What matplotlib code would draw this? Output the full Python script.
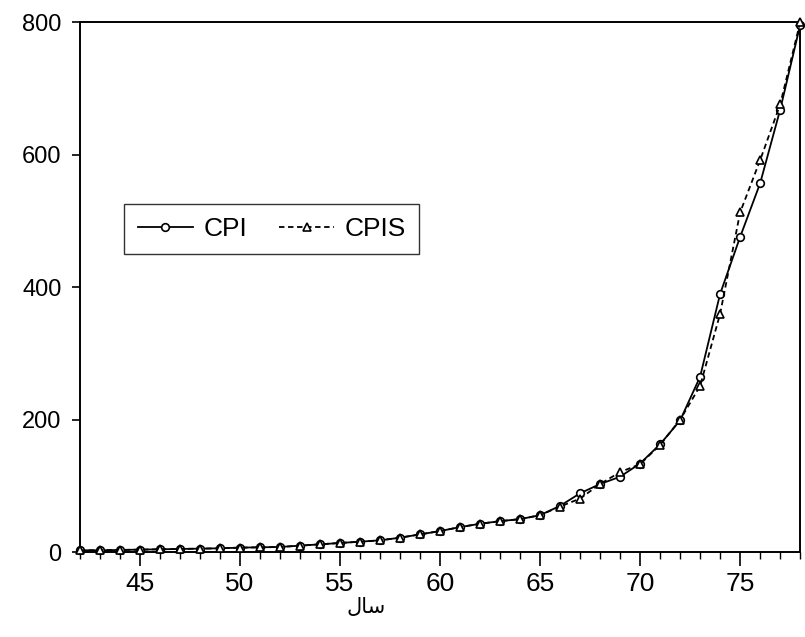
import matplotlib
matplotlib.use('Agg')
import matplotlib.pyplot as plt

plt.rcParams['font.family'] = ['Liberation Sans', 'DejaVu Sans']

years = list(range(42, 79))

cpi = [3, 3, 3.5, 4, 4.5, 5, 5.5, 6, 7, 7.5, 8, 10, 12, 14, 16, 18, 22, 27, 32,
       38, 43, 47, 50, 56, 70, 89, 103, 114, 134, 163, 199, 265, 390, 476, 557,
       668, 796]
cpis = [3, 3, 3.5, 4, 4.5, 5, 5.5, 6, 7, 7.5, 8, 10, 12, 14, 16, 18, 22, 27, 32,
        38, 43, 47, 50, 56, 69, 81, 103, 121, 133, 162, 200, 251, 360, 513, 592,
        676, 800]

y_ticks = [0, 200, 400, 600, 800]
x_major = [45, 50, 55, 60, 65, 70, 75]

xlabel_text = 'سال'


def shape_persian(s):
    # matplotlib has no Arabic shaping: map to presentation forms, right-to-left
    forms = {  # letter: (isolated, final, initial, medial)
        'س': ('\uFEB1', '\uFEB2', '\uFEB3', '\uFEB4'),
        'ا': ('\uFE8D', '\uFE8E', None, None),
        'ل': ('\uFEDD', '\uFEDE', '\uFEDF', '\uFEE0'),
    }
    non_joining = {'ا'}
    out = []
    for i, ch in enumerate(s):
        prev_joins = i > 0 and s[i - 1] not in non_joining
        next_joins = i < len(s) - 1 and ch not in non_joining
        iso, fin, ini, med = forms[ch]
        if prev_joins and next_joins:
            out.append(med)
        elif prev_joins:
            out.append(fin)
        elif next_joins:
            out.append(ini)
        else:
            out.append(iso)
    return ''.join(reversed(out))


fig = plt.figure(figsize=(8.05, 6.37), dpi=100)
ax = fig.add_axes([0.099, 0.133, 0.895, 0.832])

ax.plot(years, cpi, '-', color='black', linewidth=1.3, marker='o',
        markersize=5.5, markerfacecolor='white', markeredgewidth=1.2,
        label='CPI', clip_on=False, zorder=3)
ax.plot(years, cpis, '--', color='black', linewidth=1.3, marker='^',
        markersize=5.5, markerfacecolor='white', markeredgewidth=1.2,
        dashes=(3, 2), label='CPIS', clip_on=False, zorder=3)

ax.set_xlim(42, 78)
ax.set_ylim(0, 800)
ax.set_yticks(y_ticks)
ax.set_xticks(x_major)
ax.set_xticks(years, minor=True)

for sp in ax.spines.values():
    sp.set_linewidth(1.4)

ax.tick_params(axis='both', which='major', direction='out',
               width=1.2, color='black')
ax.tick_params(axis='x', which='major', length=10, pad=4, labelsize=19)
ax.tick_params(axis='x', which='minor', length=5, width=1.0)
ax.tick_params(axis='y', which='major', length=6, pad=7, labelsize=17)

ax.set_xlabel(shape_persian(xlabel_text), fontsize=15,
              family=['DejaVu Sans'])
ax.xaxis.set_label_coords(0.397, -0.085)

leg = ax.legend(loc='upper left', bbox_to_anchor=(0.062, 0.658), ncol=2,
                fontsize=19, frameon=True, fancybox=False, handlelength=2.1,
                columnspacing=1.2, handletextpad=0.4, borderpad=0.5,
                borderaxespad=0)
leg.get_frame().set_edgecolor('black')
leg.get_frame().set_linewidth(1.0)

fig.savefig('out.png', dpi=100)
